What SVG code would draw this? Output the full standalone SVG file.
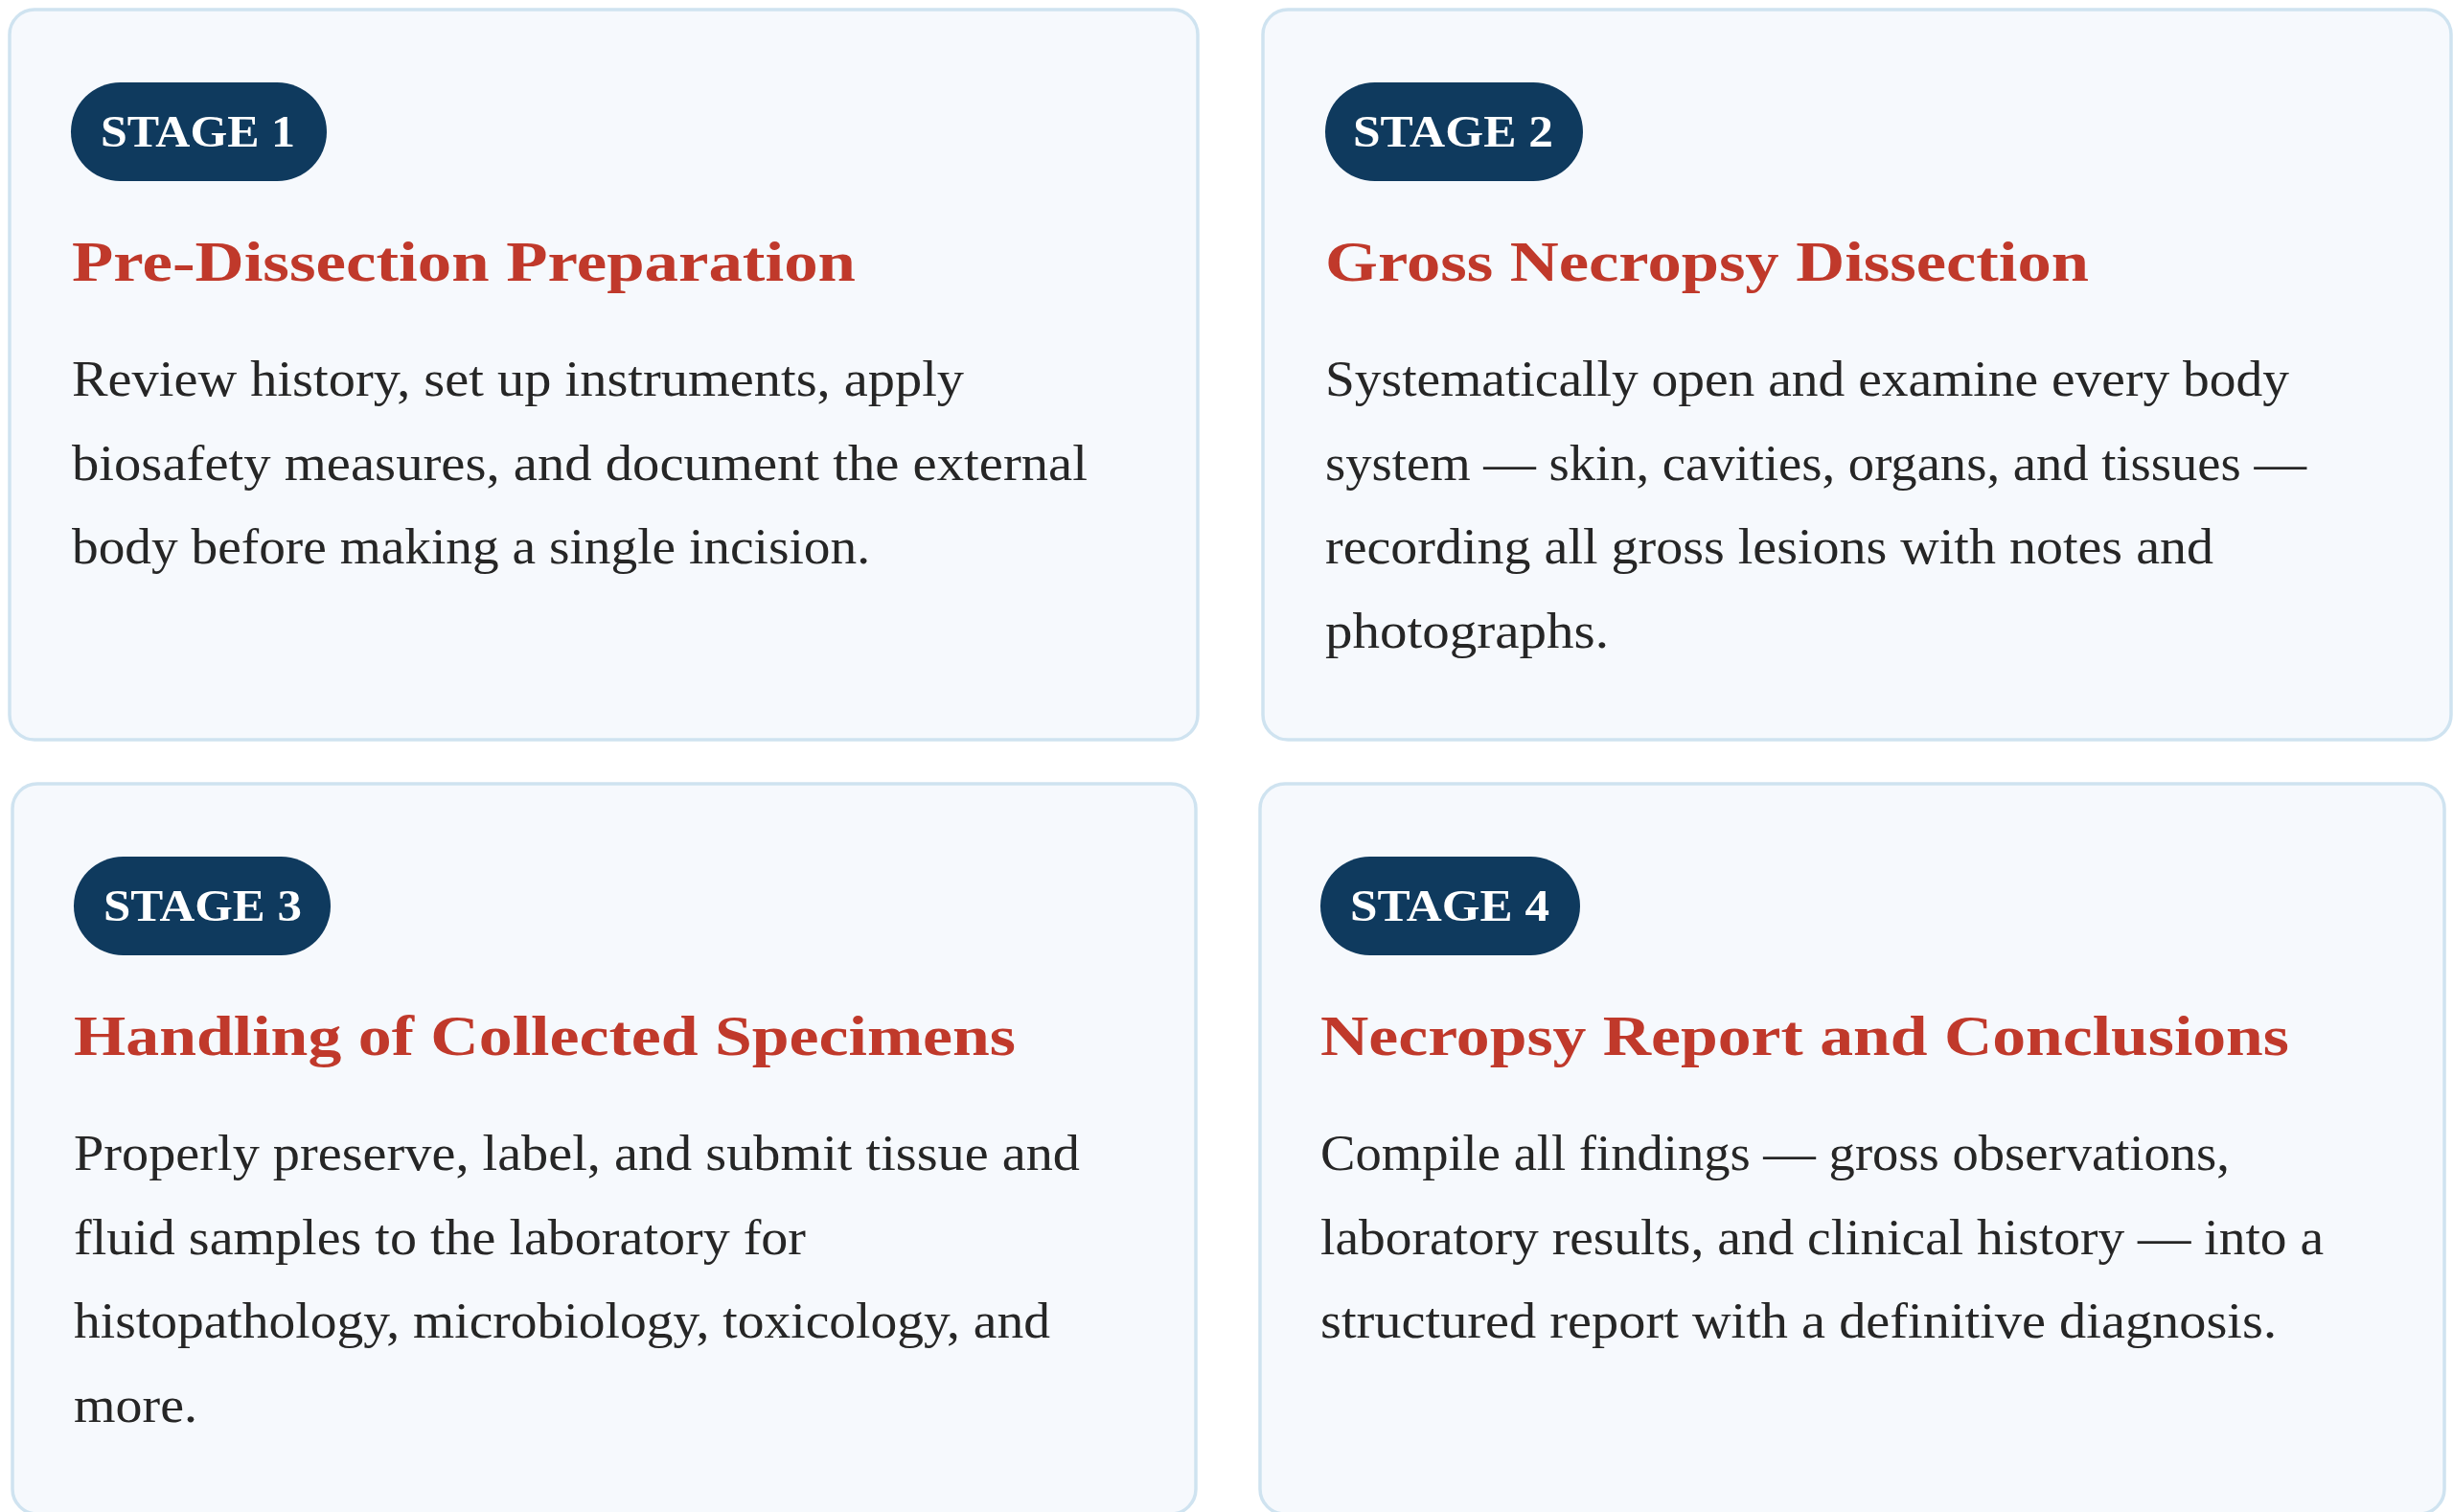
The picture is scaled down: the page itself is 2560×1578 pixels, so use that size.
<svg xmlns="http://www.w3.org/2000/svg" width="2560" height="1578" viewBox="0 0 2560 1578">
<style>
.card{fill:#f6f9fd;stroke:#cfe3f0;stroke-width:3.5}
.badge{fill:#0f3a5e}
.bt{font-family:"Liberation Serif","Times New Roman",serif;font-weight:bold;font-size:47px;fill:#ffffff}
.title{font-family:"Liberation Serif","Times New Roman",serif;font-weight:bold;font-size:60px;fill:#c0392b}
.body{font-family:"Liberation Serif","Times New Roman",serif;font-size:52px;fill:#262626}
</style>
<rect x="0" y="0" width="2560" height="1578" fill="#ffffff"/>
<g id="connectors"></g>
<g id="stage1">
<rect class="card" x="10" y="10" width="1240" height="762" rx="26"/>
<rect class="badge" x="74" y="86" width="267" height="103" rx="51.5"/>
<text class="bt" x="105" y="153" textLength="203" lengthAdjust="spacingAndGlyphs">STAGE 1</text>
<text class="title" x="75" y="293" textLength="818" lengthAdjust="spacingAndGlyphs">Pre-Dissection Preparation</text>
<text class="body" x="75" y="413" textLength="931" lengthAdjust="spacingAndGlyphs">Review history, set up instruments, apply</text>
<text class="body" x="75" y="500.5" textLength="1060" lengthAdjust="spacingAndGlyphs">biosafety measures, and document the external</text>
<text class="body" x="75" y="588" textLength="833" lengthAdjust="spacingAndGlyphs">body before making a single incision.</text>
</g>
<g id="stage2">
<rect class="card" x="1318" y="10" width="1240" height="762" rx="26"/>
<rect class="badge" x="1383" y="86" width="269" height="103" rx="51.5"/>
<text class="bt" x="1412" y="153" textLength="209" lengthAdjust="spacingAndGlyphs">STAGE 2</text>
<text class="title" x="1383" y="293" textLength="797" lengthAdjust="spacingAndGlyphs">Gross Necropsy Dissection</text>
<text class="body" x="1383" y="413" textLength="1006" lengthAdjust="spacingAndGlyphs">Systematically open and examine every body</text>
<text class="body" x="1383" y="500.5" textLength="1024" lengthAdjust="spacingAndGlyphs">system — skin, cavities, organs, and tissues —</text>
<text class="body" x="1383" y="588" textLength="927" lengthAdjust="spacingAndGlyphs">recording all gross lesions with notes and</text>
<text class="body" x="1383" y="675.5" textLength="296" lengthAdjust="spacingAndGlyphs">photographs.</text>
</g>
<g id="stage3">
<rect class="card" x="13" y="818" width="1235" height="762" rx="26"/>
<rect class="badge" x="77" y="894" width="268" height="103" rx="51.5"/>
<text class="bt" x="108" y="961" textLength="207" lengthAdjust="spacingAndGlyphs">STAGE 3</text>
<text class="title" x="77" y="1101" textLength="983" lengthAdjust="spacingAndGlyphs">Handling of Collected Specimens</text>
<text class="body" x="77" y="1221" textLength="1050" lengthAdjust="spacingAndGlyphs">Properly preserve, label, and submit tissue and</text>
<text class="body" x="77" y="1308.5" textLength="764" lengthAdjust="spacingAndGlyphs">fluid samples to the laboratory for</text>
<text class="body" x="77" y="1396" textLength="1019" lengthAdjust="spacingAndGlyphs">histopathology, microbiology, toxicology, and</text>
<text class="body" x="77" y="1483.5" textLength="129" lengthAdjust="spacingAndGlyphs">more.</text>
</g>
<g id="stage4">
<rect class="card" x="1315" y="818" width="1236" height="762" rx="26"/>
<rect class="badge" x="1378" y="894" width="271" height="103" rx="51.5"/>
<text class="bt" x="1409" y="961" textLength="208" lengthAdjust="spacingAndGlyphs">STAGE 4</text>
<text class="title" x="1378" y="1101" textLength="1011" lengthAdjust="spacingAndGlyphs">Necropsy Report and Conclusions</text>
<text class="body" x="1378" y="1221" textLength="949" lengthAdjust="spacingAndGlyphs">Compile all findings — gross observations,</text>
<text class="body" x="1378" y="1308.5" textLength="1047" lengthAdjust="spacingAndGlyphs">laboratory results, and clinical history — into a</text>
<text class="body" x="1378" y="1396" textLength="998" lengthAdjust="spacingAndGlyphs">structured report with a definitive diagnosis.</text>
</g>
</svg>
